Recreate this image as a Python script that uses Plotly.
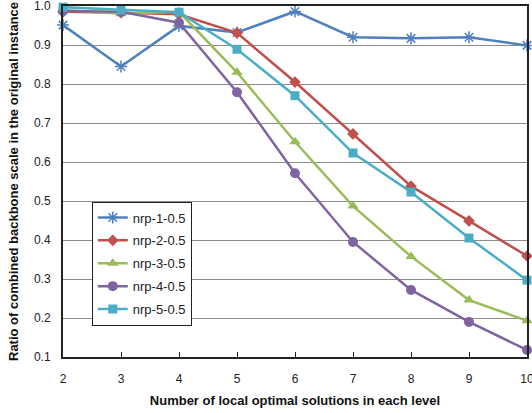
import plotly.graph_objects as go

x_levels = [2, 3, 4, 5, 6, 7, 8, 9, 10]
series_names = ["nrp-1-0.5", "nrp-2-0.5", "nrp-3-0.5", "nrp-4-0.5", "nrp-5-0.5"]
nrp1 = [0.951, 0.845, 0.949, 0.932, 0.986, 0.920, 0.917, 0.920, 0.899]
nrp2 = [0.985, 0.983, 0.979, 0.931, 0.805, 0.672, 0.538, 0.449, 0.359]
nrp3 = [0.990, 0.980, 0.985, 0.830, 0.652, 0.487, 0.358, 0.246, 0.193]
nrp4 = [0.987, 0.985, 0.957, 0.779, 0.571, 0.395, 0.272, 0.190, 0.118]
nrp5 = [0.997, 0.990, 0.984, 0.889, 0.770, 0.623, 0.523, 0.405, 0.297]
y_ticks = [0.1, 0.2, 0.3, 0.4, 0.5, 0.6, 0.7, 0.8, 0.9, 1.0]

values = [nrp1, nrp2, nrp3, nrp4, nrp5]
colors = ["#4F81BD", "#C0504D", "#9BBB59", "#8064A2", "#4BACC6"]
symbols = ["asterisk-open", "diamond", "triangle-up", "circle", "square"]
sizes = [10, 9, 10, 10, 9]

fig = go.Figure()
for name, vals, c, s, sz in zip(series_names, values, colors, symbols, sizes):
    mk = dict(symbol=s, size=sz, color=c)
    if s == "asterisk-open":
        mk["line"] = dict(color=c, width=1.5)
    fig.add_trace(go.Scatter(
        x=x_levels, y=vals, name=name, mode="lines+markers", legendgroup=name,
        line=dict(color=c, width=2.5), marker=mk, cliponaxis=False,
    ))

fig.update_layout(
    width=532, height=413,
    margin=dict(l=63, r=5, t=6, b=56),
    paper_bgcolor="white", plot_bgcolor="white",
    font=dict(family="Liberation Sans, Arial, sans-serif", size=12, color="#222"),
    showlegend=True,
    legend=dict(
        x=0.062, y=0.443, xanchor="left", yanchor="top",
        bordercolor="#222", borderwidth=1, bgcolor="white",
        font=dict(size=13, color="#222"),
        itemwidth=30, tracegroupgap=3,
    ),
)
fig.update_xaxes(
    range=[2, 10], tickvals=x_levels, ticks="inside", ticklen=5, tickcolor="#222",
    showline=True, linecolor="#222", linewidth=2, mirror=True, showgrid=False,
    ticklabelstandoff=10, zeroline=False, automargin=False, ticklabeloverflow="allow",
    title=dict(text="<b>Number of local optimal solutions in each level</b>",
               font=dict(size=13, color="#111"), standoff=10),
)
fig.update_yaxes(
    range=[0.1, 1.0], tickvals=y_ticks, tickformat=".1f",
    showline=True, linecolor="#222", linewidth=2, mirror=True,
    showgrid=True, gridcolor="#8c8c8c", gridwidth=1, zeroline=False,
    ticklabelstandoff=8, automargin=False, ticklabeloverflow="allow",
    title=dict(text="<b>Ratio of combined backbone scale in the original instance</b>",
               font=dict(size=13, color="#111"), standoff=12),
)
fig.write_html("out.html", config={"displayModeBar": False},
               post_script="document.body.style.margin='0';document.body.style.overflow='hidden';")
